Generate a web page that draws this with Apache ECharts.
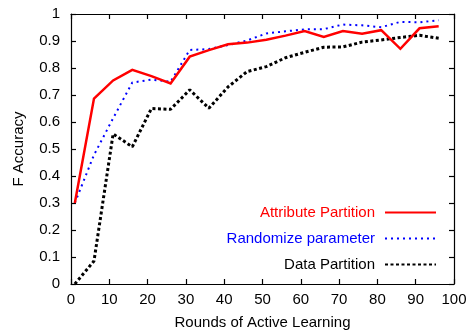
<!DOCTYPE html>
<html>
<head>
<meta charset="utf-8">
<script src="https://cdn.jsdelivr.net/npm/echarts@6/dist/echarts.min.js"></script>
<style>html,body{margin:0;padding:0;background:#fff}#c{width:468px;height:331px}</style>
</head>
<body>
<div id="c"></div>
<script>
const rounds = [1,6,11,16,21,26,31,36,41,46,51,56,61,66,71,76,81,86,91,96];
const attributePartition = [0.30,0.687,0.754,0.793,0.770,0.743,0.842,0.866,0.888,0.894,0.905,0.920,0.937,0.915,0.937,0.927,0.940,0.871,0.947,0.955];
const randomizeParameter = [0.30,0.478,0.614,0.746,0.757,0.749,0.867,0.870,0.885,0.902,0.928,0.936,0.943,0.944,0.961,0.958,0.951,0.971,0.969,0.977];
const dataPartition = [0.00,0.085,0.556,0.508,0.650,0.647,0.719,0.651,0.730,0.787,0.805,0.838,0.858,0.877,0.878,0.896,0.904,0.913,0.921,0.910];
const seriesNames = ['Attribute Partition','Randomize parameter','Data Partition'];
const xTicks = [0,10,20,30,40,50,60,70,80,90,100];
const yTicks = [0,0.1,0.2,0.3,0.4,0.5,0.6,0.7,0.8,0.9,1];

const font = 'Liberation Sans, Arial, sans-serif';
const fs = 15;
const pair = v => rounds.map((x,i)=>[x,v[i]]);
const chart = echarts.init(document.getElementById('c'), null, {renderer:'canvas'});
const axisCommon = {
  axisLine:{show:true,onZero:false,lineStyle:{color:'#000',width:1.2}},
  axisTick:{show:true,inside:true,length:5,lineStyle:{color:'#000',width:1.2}},
  splitLine:{show:false}
};
chart.setOption({
  animation:false,
  backgroundColor:'#fff',
  grid:{left:71,right:14,top:14,bottom:47,containLabel:false,outerBoundsMode:'none'},
  xAxis:[
    Object.assign({type:'value',min:0,max:100,interval:10,position:'bottom',
      name:'Rounds of Active Learning',nameLocation:'middle',nameGap:31,
      nameTextStyle:{fontFamily:font,fontSize:fs,color:'#000'},
      axisLabel:{fontFamily:font,fontSize:fs,color:'#000',margin:8,
        formatter:v=>xTicks.includes(v)?String(v):''}},axisCommon),
    Object.assign({type:'value',min:0,max:100,interval:10,position:'top',axisLabel:{show:false}},axisCommon)
  ],
  yAxis:[
    Object.assign({type:'value',min:0,max:1,interval:0.1,position:'left',
      name:'F Accuracy',nameLocation:'middle',nameGap:45,nameRotate:90,
      nameTextStyle:{fontFamily:font,fontSize:fs,color:'#000'},
      axisLabel:{fontFamily:font,fontSize:fs,color:'#000',margin:11,
        formatter:v=>{const t=yTicks.find(k=>Math.abs(k-v)<1e-6);return t===undefined?'':String(t);}}},axisCommon),
    Object.assign({type:'value',min:0,max:1,interval:0.1,position:'right',axisLabel:{show:false}},axisCommon)
  ],
  legend:{
    orient:'vertical',align:'right',right:26,top:200,
    itemWidth:51,itemHeight:14,itemGap:11,
    itemStyle:{opacity:0},
    textStyle:{fontFamily:font,fontSize:fs,padding:[0,5,0,0]},
    data:[
      {name:seriesNames[0],textStyle:{color:'#ff0000'}},
      {name:seriesNames[1],textStyle:{color:'#0000ff'}},
      {name:seriesNames[2],textStyle:{color:'#000000'}}
    ]
  },
  series:[
    {name:seriesNames[0],type:'line',data:pair(attributePartition),symbol:'none',
      lineStyle:{color:'#ff0000',width:2.5,join:'miter'},itemStyle:{color:'#ff0000'},z:3},
    {name:seriesNames[1],type:'line',data:pair(randomizeParameter),symbol:'none',
      lineStyle:{color:'#0000ff',width:2,type:[2,4],cap:'butt'},itemStyle:{color:'#0000ff'},z:2},
    {name:seriesNames[2],type:'line',data:pair(dataPartition),symbol:'none',
      lineStyle:{color:'#000000',width:3,type:[3,2.5],cap:'butt'},itemStyle:{color:'#000000'},z:1}
  ]
});
</script>
</body>
</html>
